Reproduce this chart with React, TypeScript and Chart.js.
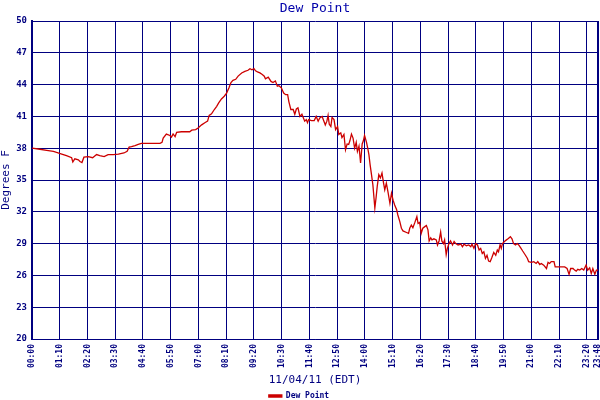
import { useEffect, useRef } from 'react';
import { Chart, registerables } from 'chart.js';

Chart.register(...registerables);

const NAVY = '#000080';
const MONO = '"DejaVu Sans Mono", "Liberation Mono", monospace';

// minutes after midnight on 11/04/11
const sampleMinutes = [
  0, 20, 37, 54, 62, 75, 87, 100, 103, 108,
  117, 121, 126, 131, 142, 153, 163, 171, 182, 192,
  205, 218, 232, 240, 245, 251, 260, 268, 276, 297,
  323, 328, 331, 339, 348, 352, 356, 361, 365, 377,
  398, 403, 413, 419, 428, 436, 443, 447, 453, 460,
  466, 471, 478, 485, 491, 497, 502, 507, 514, 520,
  529, 537, 545, 550, 555, 560, 564, 569, 575, 581,
  586, 589, 596, 603, 608, 614, 619, 623, 629, 635,
  640, 645, 648, 653, 659, 663, 667, 671, 676, 681,
  688, 692, 695, 698, 705, 712, 717, 722, 726, 732,
  737, 740, 744, 747, 750, 754, 757, 762, 766, 771,
  774, 779, 782, 787, 791, 795, 799, 802, 806, 810,
  814, 818, 821, 825, 829, 833, 836, 839, 844, 847,
  850, 853, 856, 860, 865, 868, 871, 875, 879, 883,
  887, 890, 894, 898, 903, 907, 911, 915, 920, 923,
  928, 932, 936, 945, 950, 953, 957, 961, 966, 971,
  974, 978, 982, 986, 991, 995, 999, 1002, 1006, 1009,
  1014, 1020, 1023, 1027, 1031, 1034, 1038, 1041, 1045, 1048,
  1052, 1056, 1061, 1065, 1069, 1075, 1082, 1086, 1090, 1096,
  1102, 1107, 1110, 1115, 1119, 1124, 1128, 1132, 1136, 1140,
  1144, 1148, 1152, 1156, 1160, 1165, 1170, 1174, 1177, 1181,
  1184, 1187, 1192, 1197, 1201, 1207, 1211, 1215, 1220, 1224,
  1228, 1233, 1238, 1245, 1250, 1253, 1260, 1266, 1272, 1276,
  1281, 1285, 1291, 1298, 1302, 1306, 1310, 1317, 1320, 1327,
  1335, 1344, 1350, 1355, 1359, 1365, 1369, 1373, 1377, 1382,
  1387, 1392, 1398, 1402, 1407, 1411, 1415, 1420, 1424, 1428,
];

const dewPointF = [
  38.0, 37.9, 37.8, 37.7, 37.6, 37.45, 37.3, 37.1, 36.7, 37.0,
  36.9, 36.75, 36.65, 37.15, 37.2, 37.1, 37.4, 37.3, 37.2, 37.4,
  37.4, 37.45, 37.55, 37.7, 38.1, 38.15, 38.25, 38.35, 38.45, 38.45,
  38.45, 38.55, 38.95, 39.33, 39.2, 39.05, 39.35, 39.1, 39.5, 39.55,
  39.55, 39.7, 39.75, 39.9, 40.2, 40.4, 40.55, 41.1, 41.25, 41.65,
  41.95, 42.27, 42.65, 42.9, 43.2, 43.7, 44.2, 44.4, 44.5, 44.8,
  45.1, 45.25, 45.35, 45.5, 45.4, 45.5, 45.3, 45.2, 45.1, 44.95,
  44.8, 44.55, 44.7, 44.3, 44.2, 44.35, 43.85, 43.9, 43.7, 43.2,
  43.05, 43.05, 42.4, 41.65, 41.65, 41.2, 41.7, 41.8, 41.0, 41.2,
  40.55, 40.7, 40.4, 40.7, 40.6, 40.6, 41.0, 40.55, 40.85, 41.0,
  40.5, 40.2, 40.55, 41.1, 40.25, 40.05, 40.9, 40.7, 39.75, 40.05,
  39.3, 39.45, 39.0, 39.3, 37.85, 38.4, 38.35, 38.7, 39.33, 38.95,
  38.0, 38.55, 37.7, 38.2, 36.6, 38.4, 38.7, 39.2, 38.55, 38.0,
  37.4, 36.45, 35.65, 34.55, 32.35, 33.3, 34.4, 35.5, 35.2, 35.65,
  34.7, 34.07, 34.7, 33.9, 32.8, 33.75, 33.1, 32.65, 32.2, 31.7,
  31.07, 30.45, 30.2, 30.05, 29.97, 30.45, 30.75, 30.5, 31.0, 31.55,
  30.9, 31.0, 29.97, 30.45, 30.6, 30.7, 30.3, 29.25, 29.55, 29.35,
  29.45, 29.35, 28.87, 29.25, 30.1, 29.25, 29.0, 29.35, 27.97, 28.55,
  29.0, 29.25, 28.87, 29.2, 29.0, 28.87, 28.95, 28.7, 28.95, 28.8,
  28.87, 28.7, 28.95, 28.55, 29.0, 28.87, 28.4, 28.55, 28.07, 28.23,
  27.6, 27.9, 27.35, 27.3, 27.67, 28.17, 27.9, 28.4, 28.23, 28.9,
  28.55, 29.0, 29.2, 29.35, 29.45, 29.65, 29.45, 29.0, 28.87, 29.0,
  28.87, 28.6, 28.3, 27.9, 27.6, 27.3, 27.23, 27.3, 27.13, 27.3,
  27.03, 27.13, 26.97, 26.65, 27.23, 27.13, 27.3, 27.3, 26.8, 26.8,
  26.8, 26.8, 26.65, 26.1, 26.65, 26.65, 26.5, 26.4, 26.57, 26.5,
  26.65, 26.5, 26.97, 26.5, 26.72, 26.18, 26.65, 26.1, 26.5, 26.5,
];

const xTickMinutes = [
  0, 70, 140, 210, 280, 350, 420, 490, 560, 630, 700,
  770, 840, 910, 980, 1050, 1120, 1190, 1260, 1330, 1400, 1428,
];
const yTickValues = [20, 23, 26, 29, 32, 35, 38, 41, 44, 47, 50];

const pad2 = (n: number) => String(n).padStart(2, '0');
const fmtTime = (m: number) => `${pad2(Math.floor(m / 60))}:${pad2(m % 60)}`;

const DewPointChart = () => {
  const chartRef = useRef<HTMLCanvasElement | null>(null);
  const chartInstance = useRef<Chart | null>(null);

  useEffect(() => {
    document.body.style.margin = '0';
    if (chartInstance.current) {
      chartInstance.current.destroy();
    }
    const ctx = chartRef.current!.getContext('2d')!;

    chartInstance.current = new Chart(ctx, {
      type: 'line',
      data: {
        datasets: [{
          label: 'Dew Point',
          data: sampleMinutes.map((m, i) => ({ x: m, y: dewPointF[i] })),
          borderColor: '#cc0000',
          backgroundColor: '#cc0000',
          borderWidth: 1.3,
          pointRadius: 0,
          tension: 0,
          fill: false,
        }],
      },
      options: {
        responsive: false,
        animation: false,
        // legend box carries 10px of empty space at its bottom; push it off the canvas
        layout: { padding: { left: 0, right: 2, top: 0, bottom: -10 } },
        plugins: {
          title: {
            display: true,
            text: 'Dew Point',
            color: '#0000aa',
            fullSize: false,
            font: { family: MONO, size: 13, weight: 'normal', lineHeight: 1 },
            padding: { top: 2, bottom: 6 },
          },
          legend: {
            position: 'bottom',
            labels: {
              color: NAVY,
              font: { family: MONO, size: 8, weight: 'bold' },
              boxWidth: 13,
              boxHeight: 2,
              padding: 2,
            },
          },
          tooltip: { enabled: false },
        },
        scales: {
          x: {
            type: 'linear',
            min: 0,
            max: 1428,
            afterBuildTicks: (scale: any) => {
              scale.ticks = xTickMinutes.map(v => ({ value: v }));
            },
            afterFit: (scale: any) => {
              scale.height = 51;
              scale.paddingLeft = 0;
              scale.paddingRight = 0;
            },
            ticks: {
              autoSkip: false,
              minRotation: 90,
              maxRotation: 90,
              padding: 5,
              color: NAVY,
              font: { family: MONO, size: 8, weight: 'bold' },
              callback: (v: any) => fmtTime(Number(v)),
            },
            grid: {
              color: NAVY,
              lineWidth: (c: any) => (c.index === xTickMinutes.length - 1 ? 2 : 1),
              drawTicks: false,
            },
            border: { color: NAVY, width: 1 },
            title: {
              display: true,
              text: '11/04/11 (EDT)',
              color: NAVY,
              font: { family: MONO, size: 11 },
              padding: { top: 0, bottom: 3 },
            },
          },
          y: {
            min: 20,
            max: 50,
            afterBuildTicks: (scale: any) => {
              scale.ticks = yTickValues.map(v => ({ value: v }));
            },
            afterFit: (scale: any) => {
              scale.width = 32;
            },
            ticks: {
              color: NAVY,
              font: { family: MONO, size: 9, weight: 'bold' },
              padding: 5,
            },
            grid: { color: NAVY, lineWidth: 1, drawTicks: false },
            border: { color: NAVY, width: 2 },
            title: {
              display: true,
              text: 'Degrees F',
              color: NAVY,
              font: { family: MONO, size: 11 },
              padding: { top: 0, bottom: 0 },
            },
          },
        },
      },
    });

    return () => {
      if (chartInstance.current) {
        chartInstance.current.destroy();
        chartInstance.current = null;
      }
    };
  }, []);

  return (
    <div style={{ width: 600, height: 400 }}>
      <canvas ref={chartRef} width={600} height={400}></canvas>
    </div>
  );
};

export default function App() {
  return <DewPointChart />;
}
